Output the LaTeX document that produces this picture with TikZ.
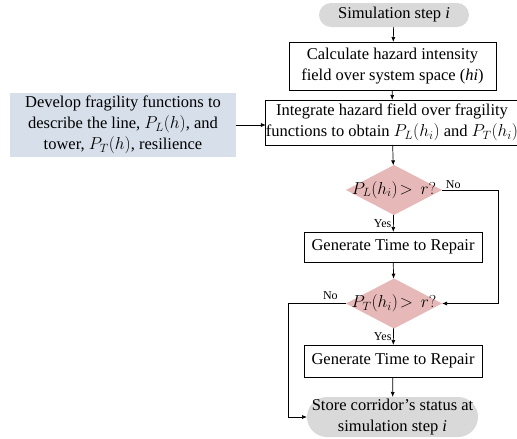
\documentclass[tikz,border=0pt]{standalone}
\usepackage{fontspec}
\setmainfont{Liberation Serif}
\usetikzlibrary{shapes.geometric,arrows.meta}
\definecolor{termgray}{HTML}{D9D9D9}
\definecolor{sideblue}{HTML}{D6DFEA}
\definecolor{decpink}{HTML}{E6B9B8}
\begin{document}
\begin{tikzpicture}[x=1pt,y=-1pt,
  font=\fontsize{16.5}{21}\selectfont,
  every node/.style={inner sep=0pt,outer sep=0pt},
  procbox/.style={draw,line width=0.8pt,align=center},
  termbox/.style={fill=termgray,align=center},
  decbox/.style={diamond,fill=decpink,minimum width=96pt,minimum height=50pt},
  sidebox/.style={fill=sideblue,align=center,minimum width=226pt,minimum height=64pt},
  lab/.style={font=\fontsize{12}{14}\selectfont},
  conn/.style={line width=0.7pt,-{Latex[length=5pt,width=4pt]}},
  plain/.style={line width=0.7pt}]
\useasboundingbox (0,0) rectangle (517,439);
\node[termbox,rounded corners=12pt,minimum width=150pt,minimum height=24pt] (start) at (394,15) {Simulation step \textit{i}};
\node[procbox,minimum width=207pt,minimum height=48pt] (calc) at (392.5,66) {Calculate hazard intensity\\field over system space (\textit{hi})};
\node[procbox,minimum width=248pt,minimum height=45pt] (integ) at (392,122.5) {Integrate hazard field over fragility\\functions to obtain $P_{L}\bigl(h_{i}\bigr)$ and $P_{T}\bigl(h_{i}\bigr)$};
\node[sidebox] (side) at (123,125) {Develop fragility functions to\\describe the line, $P_{L}\bigl(h\bigr)$, and\\tower, $P_{T}\bigl(h\bigr)$, resilience};
\node[decbox] (d1) at (394,190) {\makebox[0pt]{$P_{L}\bigl(h_{i}\bigr)\!>\,r?$}};
\node[procbox,minimum width=178pt,minimum height=30pt] (gen1) at (393,247) {Generate Time to Repair};
\node[decbox] (d2) at (394,303.5) {\makebox[0pt]{$P_{T}\bigl(h_{i}\bigr)\!>\,r?$}};
\node[procbox,minimum width=178pt,minimum height=32pt] (gen2) at (393,361) {Generate Time to Repair};
\node[termbox,rounded corners=20pt,minimum width=171pt,minimum height=40pt] (stop) at (392.5,417) {Store corridor’s status at\\simulation step \textit{i}};
\coordinate (cR) at (498,190);
\coordinate (cL) at (288,303.5);
\draw[conn] (start) -- (calc);
\draw[conn] (calc) -- (integ);
\draw[conn] (side.east) -- (side.east -| integ.west);
\draw[conn] (integ) -- (d1);
\draw[conn] (d1) -- node[lab,left=2pt,pos=0.5] {Yes} (gen1);
\draw[plain] (d1.east) -- node[lab,above=1pt,pos=0.2] {No} (cR);
\draw[conn] (cR) |- (d2.east);
\draw[conn] (gen1) -- (d2);
\draw[conn] (d2) -- node[lab,left=2pt,pos=0.5] {Yes} (gen2);
\draw[plain] (d2.west) -- node[lab,above=4pt,pos=0.27] {No} (cL);
\draw[conn] (cL) |- (stop.west);
\draw[conn] (gen2) -- (stop);
\end{tikzpicture}
\end{document}
